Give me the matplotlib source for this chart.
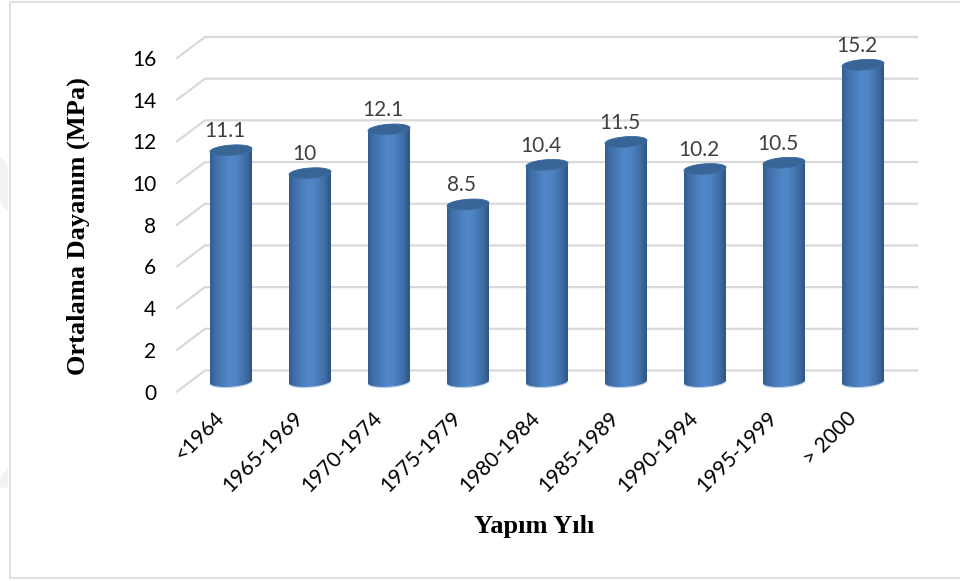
import numpy as np
import matplotlib
matplotlib.use('Agg')
import matplotlib.pyplot as plt
from matplotlib.path import Path
from matplotlib.patches import PathPatch, Polygon
from matplotlib.colors import LinearSegmentedColormap
from matplotlib.transforms import ScaledTranslation

categories=['<1964','1965-1969','1970-1974','1975-1979','1980-1984','1985-1989','1990-1994','1995-1999','> 2000']
values=[11.1,10,12.1,8.5,10.4,11.5,10.2,10.5,15.2]
value_labels=['11.1','10','12.1','8.5','10.4','11.5','10.2','10.5','15.2']
y_ticks=[0,2,4,6,8,10,12,14,16]

W,H=960,581
px_x=79.0   # px per category
px_y=20.84  # px per MPa
left,right=177,889
y0,y16=391.5,58

fig=plt.figure(figsize=(W/100,H/100),dpi=100)
plt.rcParams['font.family']=['Lato','DejaVu Sans']
ax=fig.add_axes([left/W,1-y0/H,(right-left)/W,(y0-y16)/H])
x_lo=(left-231)/px_x
x_hi=(right-231)/px_x
for sp in ax.spines.values():
    sp.set_visible(False)
ax.patch.set_alpha(0)

# floor/wall grid, drawn in data units with a fixed depth
dx=28/px_x
dy=21/px_y
for v in y_ticks:
    ax.plot([x_lo,x_lo+dx,x_hi+dx],[v,v+dy,v+dy],color='#d9d9d9',lw=1.6,clip_on=False,zorder=1,solid_joinstyle='miter')

cmap=LinearSegmentedColormap.from_list('cyl',[(0,'#335d90'),(0.12,'#3f6ea8'),(0.45,'#5287c8'),(0.6,'#5085c5'),(0.85,'#3f6ea6'),(1,'#2f5582')])
grad=np.linspace(0,1,128).reshape(1,-1)
rx=21/px_x
ry=5.2/px_y
tilt=0.07*px_x/px_y   # top and bottom ellipses lean up to the right
base=dy/2-0.03
t=np.linspace(0,np.pi,40)

for i,v in enumerate(values):
    top=v+base
    ex=rx*np.cos(t)
    up=ry*np.sin(t)+tilt*ex
    low=-ry*np.sin(t)+tilt*ex
    # body: upper rim of the top ellipse, then lower rim of the bottom one
    xs=np.r_[i+ex,(i+ex)[::-1],i+ex[0]]
    ys=np.r_[top+up,(base+low)[::-1],top+up[0]]
    im=ax.imshow(grad,extent=[i-rx,i+rx,base-2*ry,top+2*ry],aspect='auto',cmap=cmap,zorder=3,clip_on=True)
    body=PathPatch(Path(np.c_[xs,ys]),transform=ax.transData,fc='none',ec='none')
    ax.add_patch(body)
    im.set_clip_path(body)
    # thin pale rim under the cylinder
    ax.plot(i+ex,base+low-0.03,color='#9dbde6',lw=0.7,alpha=0.7,zorder=2.5)
    # top ellipse
    xe=np.r_[i+ex,(i+ex)[::-1]]
    ye=np.r_[top+up,(top+low)[::-1]]
    ax.add_patch(Polygon(np.c_[xe,ye],closed=True,fc='#386595',ec='#3f6ea8',lw=0.6,zorder=4))
    ax.annotate(value_labels[i],(i,top),xytext=(-6,19),textcoords='offset pixels',ha='center',va='center',
                fontsize=15,color='#404040',zorder=5)

ax.set_xlim(x_lo,x_hi)
ax.set_ylim(0,16)
ax.set_xticks(range(len(categories)))
ax.set_xticklabels(categories,rotation=45,ha='right',va='top',rotation_mode='anchor',fontsize=15,color='black')
ax.set_yticks(y_ticks)
ax.set_yticklabels([str(v) for v in y_ticks],fontsize=15,color='black')
ax.tick_params(axis='x',length=0,pad=12)
ax.tick_params(axis='y',length=0,pad=15)
shift=ScaledTranslation(-17/100,0,fig.dpi_scale_trans)
for lab in ax.get_xticklabels():
    lab.set_transform(lab.get_transform()+shift)

serif=['Liberation Serif','DejaVu Serif']
fig.text(78/W,1-226/H,'Ortalama Dayanım (MPa)',rotation=90,ha='center',va='center',
         fontsize=19,fontweight='bold',family=serif)
fig.text(534/W,1-526/H,'Yapım Yılı',ha='center',va='center',fontsize=19,fontweight='bold',family=serif)

# outer frame of the pasted chart and the faint page watermark behind it
fig.add_artist(plt.Line2D([9.5/W,9.5/W],[1-1.5/H,1-577.5/H],color='#e2e2e2',lw=1.5))
fig.add_artist(plt.Line2D([9.5/W,1],[1-1.5/H,1-1.5/H],color='#e2e2e2',lw=1.5))
fig.add_artist(plt.Line2D([9.5/W,1],[1-577.5/H,1-577.5/H],color='#e2e2e2',lw=1.5))
fig.add_artist(Polygon([(0,1-157/H),(8/W,1-165/H),(8/W,1-211/H),(0,1-203/H)],closed=True,transform=fig.transFigure,fc='#f3f3f3',ec='none'))
fig.add_artist(Polygon([(8/W,1-468/H),(0,1-478/H),(0,1-487/H),(8/W,1-488/H)],closed=True,transform=fig.transFigure,fc='#f3f3f3',ec='none'))

fig.savefig('out.png',dpi=100)
